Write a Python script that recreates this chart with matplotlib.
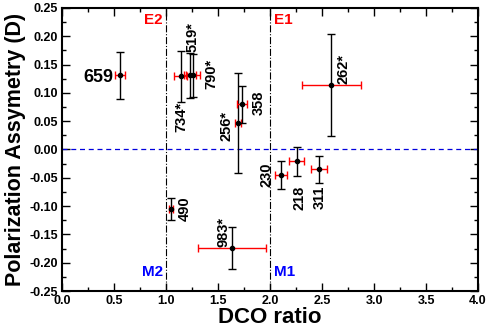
import matplotlib
matplotlib.use("Agg")
import matplotlib.pyplot as plt
from matplotlib.ticker import MultipleLocator

plt.rcParams['font.family'] = ['Liberation Sans', 'DejaVu Sans']
plt.rcParams['font.weight'] = 'bold'

labels = ["659", "734*", "519*", "790*", "256*", "358", "230", "218", "311", "262*", "490", "983*"]
dco = [0.56, 1.14, 1.23, 1.26, 1.69, 1.73, 2.106, 2.256, 2.474, 2.588, 1.048, 1.636]
dco_err = [0.05, 0.06, 0.06, 0.07, 0.03, 0.045, 0.06, 0.07, 0.077, 0.284, 0.02, 0.33]
asym = [0.131, 0.129, 0.131, 0.131, 0.047, 0.080, -0.045, -0.021, -0.035, 0.114, -0.105, -0.174]
asym_err = [0.042, 0.045, 0.040, 0.038, 0.088, 0.033, 0.025, 0.026, 0.024, 0.090, 0.020, 0.037]
# label anchor positions (data coordinates) and rotation
lab_x = [0.49, 1.15, 1.26, 1.44, 1.577, 1.888, 1.968, 2.279, 2.48, 2.71, 1.183, 1.548]
lab_y = [0.128, 0.058, 0.198, 0.134, 0.042, 0.082, -0.044, -0.085, -0.085, 0.143, -0.105, -0.145]
lab_rot = [0, 90, 90, 90, 90, 90, 90, 90, 90, 90, 90, 90]

fig = plt.figure(figsize=(4.86, 3.30), dpi=100)
ax = fig.add_axes([0.1276, 0.118, 0.856, 0.858])

ax.axvline(1.0, color='black', lw=0.8, ls='-.')
ax.axvline(2.0, color='black', lw=0.8, ls='-.')
ax.axhline(0.0, color='#0000dd', lw=0.9, ls=(0, (4, 3)))

for i in range(len(dco)):
    ax.errorbar(dco[i], asym[i], xerr=dco_err[i], fmt='none', ecolor='red',
                elinewidth=1.0, capsize=3, capthick=1.0)
    ax.errorbar(dco[i], asym[i], yerr=asym_err[i], fmt='o', color='black',
                ms=3, ecolor='black', elinewidth=1.0, capsize=3, capthick=1.0)

for i in range(len(labels)):
    if lab_rot[i] == 0:
        ax.text(lab_x[i], lab_y[i], labels[i], fontsize=13, fontweight='bold',
                ha='right', va='center')
    else:
        ax.text(lab_x[i], lab_y[i], labels[i], fontsize=10.5, fontweight='bold',
                ha='center', va='center', rotation=90)

ax.text(0.97, 0.228, "E2", color='red', fontsize=11, fontweight='bold', ha='right', va='center')
ax.text(2.04, 0.228, "E1", color='red', fontsize=11, fontweight='bold', ha='left', va='center')
ax.text(0.97, -0.217, "M2", color='blue', fontsize=11, fontweight='bold', ha='right', va='center')
ax.text(2.04, -0.217, "M1", color='blue', fontsize=11, fontweight='bold', ha='left', va='center')

ax.set_xlim(0, 4.0)
ax.set_ylim(-0.25, 0.25)
ax.xaxis.set_major_locator(MultipleLocator(0.5))
ax.xaxis.set_minor_locator(MultipleLocator(0.25))
ax.yaxis.set_major_locator(MultipleLocator(0.05))
ax.yaxis.set_minor_locator(MultipleLocator(0.025))
ax.tick_params(which='both', direction='in', top=True, right=True, width=1.0)
ax.tick_params(which='major', length=6, labelsize=9, pad=3)
ax.tick_params(which='minor', length=3)
ax.set_xticklabels([f"{v:.1f}" for v in ax.get_xticks()], fontweight='bold')
ax.set_yticks([round(-0.25 + 0.05 * k, 2) for k in range(11)])
ax.set_yticklabels([f"{v:.2f}" for v in ax.get_yticks()], fontweight='bold')
ax.set_xlim(0, 4.0)
ax.set_ylim(-0.25, 0.25)
for s in ax.spines.values():
    s.set_linewidth(1.5)

ax.set_xlabel("DCO ratio", fontsize=16, fontweight='bold', labelpad=0)
ax.set_ylabel("Polarization Assymetry (D)", fontsize=15.5, fontweight='bold', labelpad=2)

fig.savefig("out.png", dpi=100)
